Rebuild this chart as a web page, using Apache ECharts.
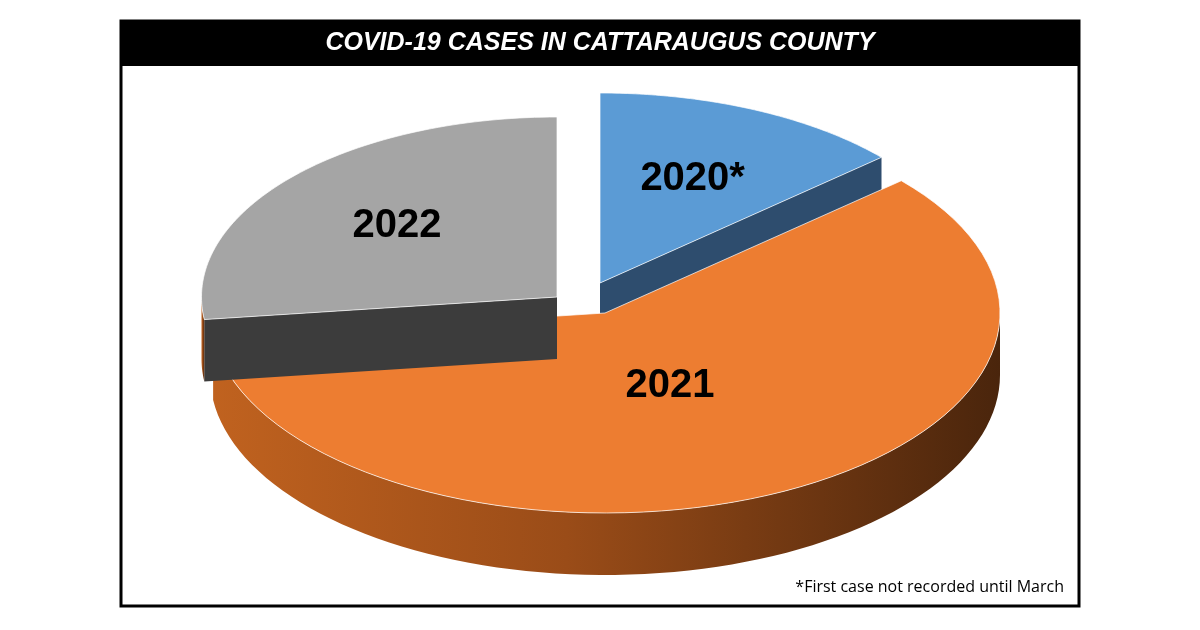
<!DOCTYPE html>
<html><head><meta charset="utf-8">
<script src="https://cdn.jsdelivr.net/npm/echarts@6/dist/echarts.min.js"></script>
<style>html,body{margin:0;background:#fff}#c{width:1200px;height:630px}</style>
</head><body><div id="c"></div>
<script>
const categories = ['2020*', '2021', '2022'];
const values = [13.5, 59.5, 27.0];
const topColors = ['#5b9bd5', '#ed7d31', '#a5a5a5'];
const wallColors = ['#2e4d6e', '#8a4418', '#3c3c3c'];

const CX = 565, CY = 305, RX = 395, RY = 200, DEPTH = 62;
const OFF_X = [35, 40, -8], OFF_Y = [-22, 8, -8];
const RSCALE = [0.95, 1.0, 0.9];
const LABEL_R = [0.6, 0.4, 0.6];
const total = values.reduce((a, b) => a + b, 0);
const starts = []; let acc = 0;
values.forEach(v => { starts.push(acc / total * Math.PI * 2); acc += v; });

function renderItem(params, api) {
  const i = params.dataIndex;
  const a0 = starts[i], a1 = a0 + values[i] / total * Math.PI * 2, mid = (a0 + a1) / 2;
  const ox = OFF_X[i], oy = OFF_Y[i], s = RSCALE[i];
  const P = (t, r, h) => [CX + ox + r * s * RX * Math.sin(t), CY + oy - r * s * RY * Math.cos(t) + h];
  const N = 80, arcTop = [], children = [];
  for (let k = 0; k <= N; k++) arcTop.push(P(a0 + (a1 - a0) * k / N, 1, 0));
  if (Math.sin(a0) < 0) children.push({type: 'polygon', shape: {points: [P(0, 0, 0), P(a0, 1, 0), P(a0, 1, DEPTH), P(0, 0, DEPTH)]}, style: {fill: wallColors[i]}});
  if (Math.sin(a1) > 0) children.push({type: 'polygon', shape: {points: [P(0, 0, 0), P(a1, 1, 0), P(a1, 1, DEPTH), P(0, 0, DEPTH)]}, style: {fill: wallColors[i]}});
  const f0 = Math.max(a0, Math.PI / 2), f1 = Math.min(a1, Math.PI * 1.5);
  if (f1 > f0) {
    const up = [], dn = [];
    for (let k = 0; k <= N; k++) { const t = f0 + (f1 - f0) * k / N; up.push(P(t, 1, 0)); dn.push(P(t, 1, DEPTH)); }
    children.push({type: 'polygon', shape: {points: up.concat(dn.reverse())},
      style: {fill: new echarts.graphic.LinearGradient(0, 0, 1, 0, [
        {offset: 0, color: '#c0621f'}, {offset: 0.45, color: '#9a4c18'}, {offset: 1, color: '#4a250c'}])}});
  }
  children.push({type: 'polygon', shape: {points: [P(0, 0, 0)].concat(arcTop)},
    style: {fill: topColors[i], stroke: 'rgba(255,255,255,0.7)', lineWidth: 1}});
  const lp = P(mid, LABEL_R[i], 0);
  children.push({type: 'text', x: lp[0], y: lp[1], style: {text: categories[i], fill: '#000',
    font: 'bold 40px "Liberation Sans", Arial, sans-serif', align: 'center', verticalAlign: 'middle'}});
  return {type: 'group', z2: i === 1 ? 10 : 1, children};
}

const chart = echarts.init(document.getElementById('c'));
chart.setOption({
  animation: false,
  graphic: [
    {type: 'rect', shape: {x: 121, y: 21, width: 958, height: 585}, style: {fill: '#fff', stroke: '#000', lineWidth: 3}, z: -10},
    {type: 'rect', shape: {x: 120, y: 20, width: 960, height: 46}, style: {fill: '#000'}, z: -9},
    {type: 'text', x: 600, y: 43, style: {text: 'COVID-19 CASES IN CATTARAUGUS COUNTY', fill: '#fff',
      font: 'italic bold 25px "Liberation Sans", Arial, sans-serif', align: 'center', verticalAlign: 'middle'}},
    {type: 'text', x: 1064, y: 587, style: {text: '*First case not recorded until March', fill: '#000',
      font: '16px "Open Sans", "Liberation Sans", sans-serif', align: 'right', verticalAlign: 'middle'}}
  ],
  series: [{type: 'custom', coordinateSystem: 'none', renderItem, data: values}]
});
</script></body></html>
